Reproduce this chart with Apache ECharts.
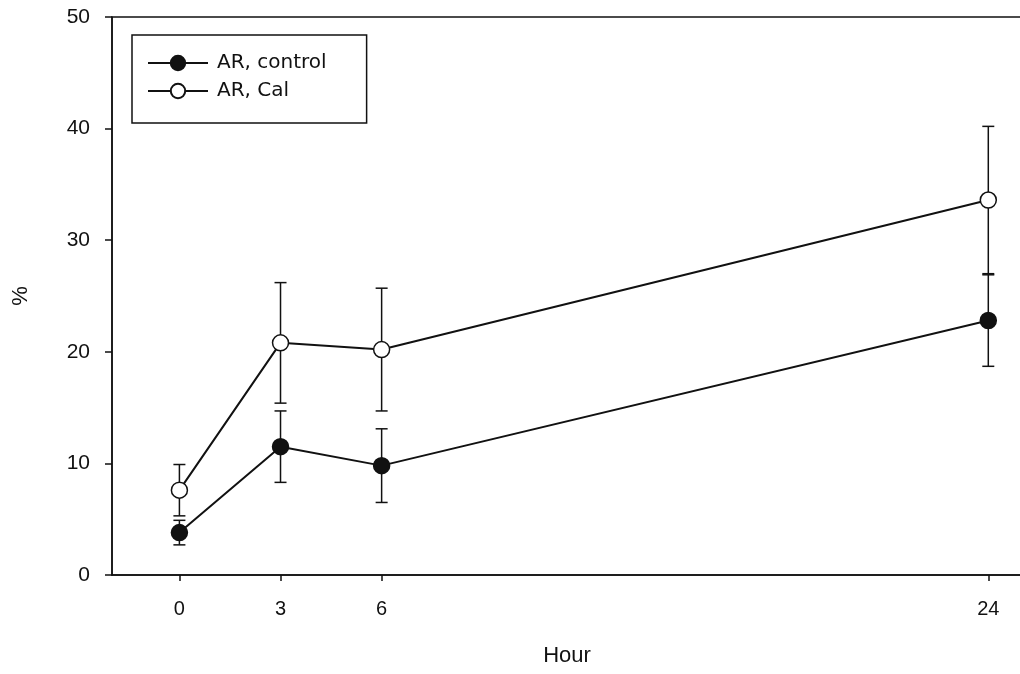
<!DOCTYPE html>
<html>
<head>
<meta charset="utf-8">
<script src="https://cdn.jsdelivr.net/npm/echarts@6/dist/echarts.min.js"></script>
<style>
  html, body { margin: 0; padding: 0; background: #fff; }
  #chart { width: 1020px; height: 674px; }
</style>
</head>
<body>
<div id="chart"></div>
<script>
// Sampling times (hours) and tick labels on the x axis
const hours = [0, 3, 6, 24];
const hourTicks = [0, 3, 6, 24];
const yTicks = [0, 10, 20, 30, 40, 50];

// AR, control: means and error (± half-range)
const controlMean = [3.8, 11.5, 9.8, 22.8];
const controlErr = [1.1, 3.2, 3.3, 4.1];

// AR, Cal: means and error
const calMean = [7.6, 20.8, 20.2, 33.6];
const calErr = [2.3, 5.4, 5.5, 6.6];

const INK = '#111';
const FONT = '"Liberation Sans", Arial, sans-serif';

function pairs(xs, ys) { return xs.map((x, i) => [x, ys[i]]); }
function errRows(xs, ys, es) { return xs.map((x, i) => [x, ys[i] - es[i], ys[i] + es[i]]); }

function errorBarSeries(name, rows) {
  return {
    type: 'custom',
    name: name + ' error',
    z: 1,
    silent: true,
    data: rows,
    encode: { x: 0, y: [1, 2] },
    renderItem: function (params, api) {
      const x = api.value(0);
      const lo = api.coord([x, api.value(1)]);
      const hi = api.coord([x, api.value(2)]);
      const cap = 6;
      const style = { stroke: INK, lineWidth: 1.5, fill: null };
      return {
        type: 'group',
        children: [
          { type: 'line', shape: { x1: lo[0], y1: lo[1], x2: hi[0], y2: hi[1] }, style: style },
          { type: 'line', shape: { x1: lo[0] - cap, y1: lo[1], x2: lo[0] + cap, y2: lo[1] }, style: style },
          { type: 'line', shape: { x1: hi[0] - cap, y1: hi[1], x2: hi[0] + cap, y2: hi[1] }, style: style }
        ]
      };
    }
  };
}

const chart = echarts.init(document.getElementById('chart'), null, { renderer: 'canvas' });

chart.setOption({
  backgroundColor: '#fff',
  animation: false,
  grid: {
    left: 112, top: 17, width: 910, height: 558,
    outerBoundsMode: 'none',
    containLabel: false,
    show: true, borderColor: INK, borderWidth: 1.5, backgroundColor: 'transparent'
  },
  legend: {
    orient: 'vertical',
    left: 132, top: 35,
    padding: [18, 40, 22, 15],
    itemGap: 8,
    itemWidth: 60, itemHeight: 18,
    borderColor: INK, borderWidth: 1.5,
    textStyle: { color: INK, fontSize: 20, fontFamily: '"DejaVu Sans", sans-serif', padding: [0, 0, 0, 4] },
    data: ['AR, control', 'AR, Cal']
  },
  xAxis: {
    type: 'value',
    min: -2, max: 25,
    name: 'Hour',
    nameLocation: 'middle',
    nameGap: 70,
    nameTextStyle: { color: INK, fontSize: 22, fontFamily: FONT },
    splitLine: { show: false },
    axisLine: { onZero: false, lineStyle: { color: INK, width: 1.5 } },
    axisTick: { show: true, length: 6, lineStyle: { color: INK, width: 1.5 }, customValues: hourTicks },
    axisLabel: { color: INK, fontSize: 20, fontFamily: FONT, margin: 24, customValues: hourTicks }
  },
  yAxis: {
    type: 'value',
    min: 0, max: 50, interval: 10,
    name: '%',
    nameLocation: 'middle',
    nameGap: 80,
    nameRotate: 90,
    nameTextStyle: { color: INK, fontSize: 22, fontFamily: FONT },
    splitLine: { show: false },
    axisLine: { onZero: false, lineStyle: { color: INK, width: 1.5 } },
    axisTick: { show: true, length: 7, lineStyle: { color: INK, width: 1.5 }, customValues: yTicks },
    axisLabel: { color: INK, fontSize: 21, fontFamily: FONT, margin: 22, customValues: yTicks }
  },
  series: [
    errorBarSeries('AR, control', errRows(hours, controlMean, controlErr)),
    errorBarSeries('AR, Cal', errRows(hours, calMean, calErr)),
    {
      type: 'line',
      name: 'AR, control',
      z: 3,
      data: pairs(hours, controlMean),
      symbol: 'circle', symbolSize: 16,
      lineStyle: { color: INK, width: 2 },
      itemStyle: { color: INK, borderColor: INK, borderWidth: 1.5 }
    },
    {
      type: 'line',
      name: 'AR, Cal',
      z: 3,
      data: pairs(hours, calMean),
      symbol: 'circle', symbolSize: 16,
      lineStyle: { color: INK, width: 2 },
      itemStyle: { color: '#fff', borderColor: INK, borderWidth: 1.5 }
    }
  ]
});
</script>
</body>
</html>
